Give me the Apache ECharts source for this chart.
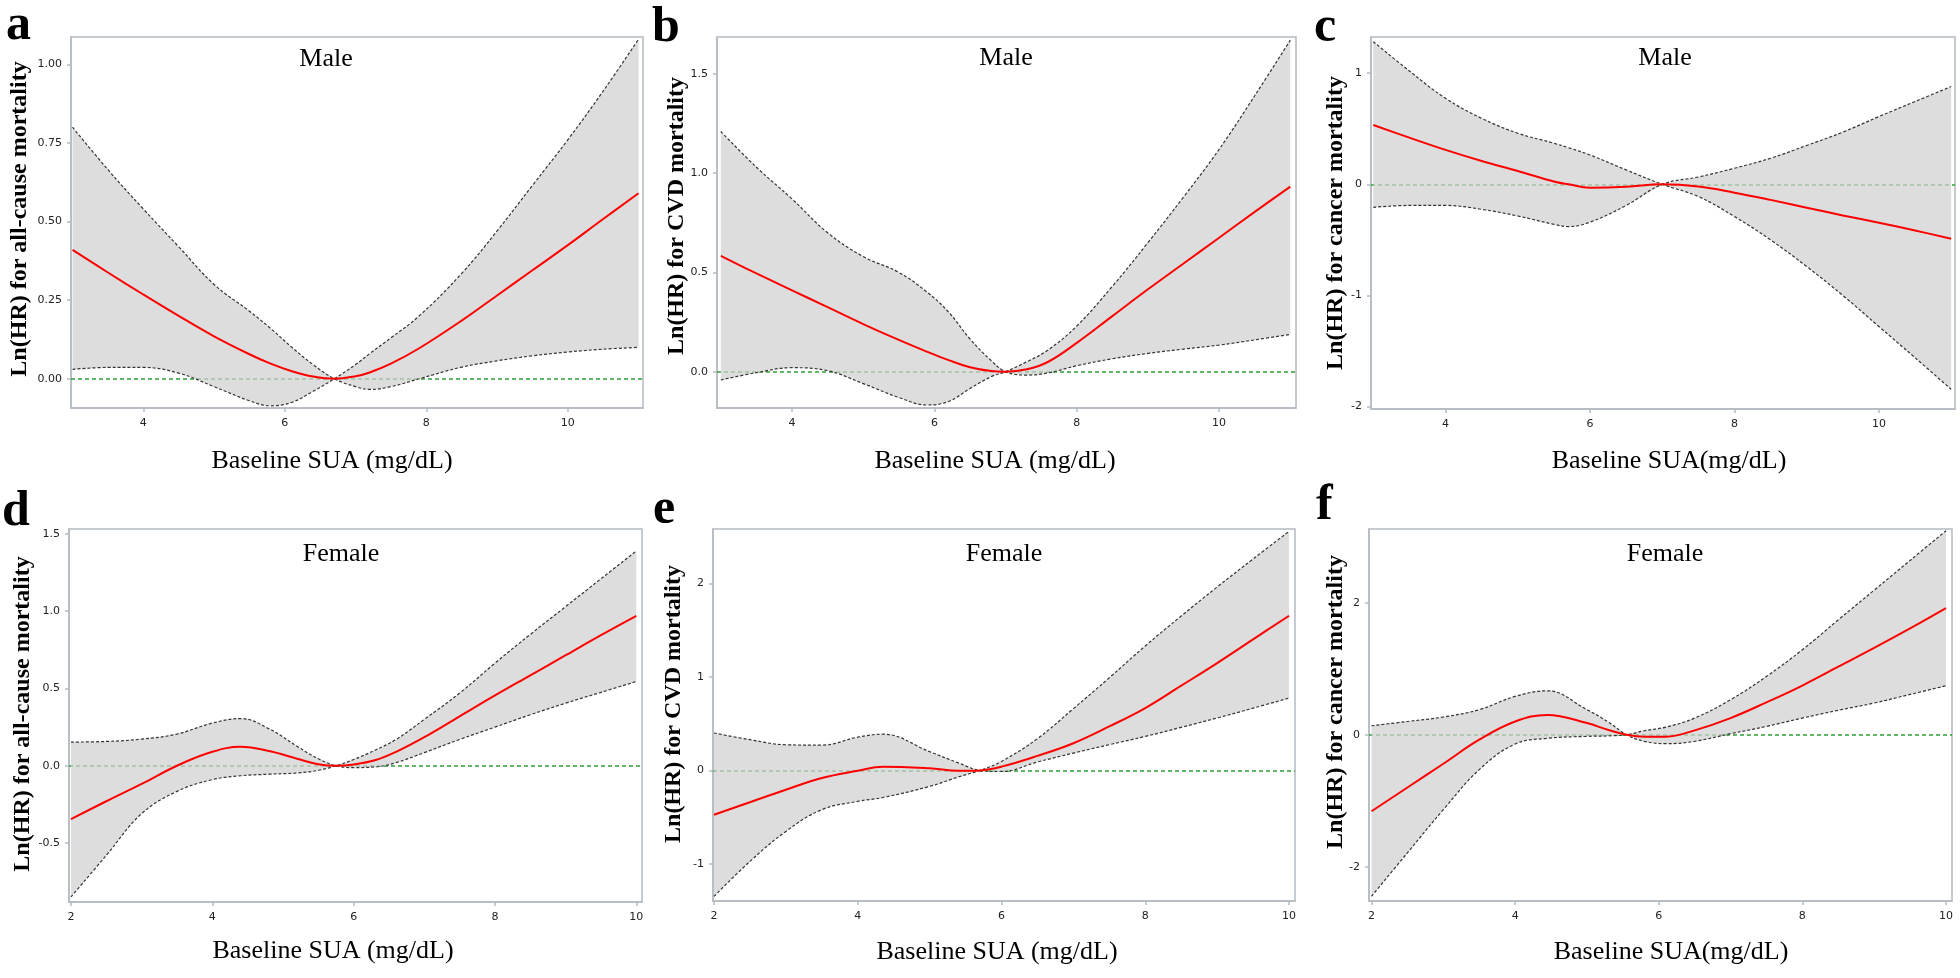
<!DOCTYPE html>
<html>
<head>
<meta charset="utf-8">
<title>Baseline SUA and mortality</title>
<script src="https://cdn.jsdelivr.net/npm/echarts@6/dist/echarts.min.js"></script>
<style>
html,body{margin:0;padding:0;background:#fff;}
#main{width:1960px;height:978px;}
</style>
</head>
<body>
<div id="main"></div>
<script>
// a: male, all-cause
var xA   = [3, 3.5, 4, 4.5, 5, 5.5, 5.8, 6.1, 6.4, 6.7, 7, 7.2, 7.5, 7.9, 8.5, 9, 9.5, 10, 10.5, 11];
var estA = [0.41, 0.338, 0.268, 0.2, 0.135, 0.078, 0.048, 0.024, 0.007, 0, 0.008, 0.02, 0.048, 0.097, 0.185, 0.265, 0.345, 0.425, 0.508, 0.59];
var upA  = [0.8, 0.665, 0.54, 0.42, 0.3, 0.215, 0.16, 0.1, 0.045, 0, 0.045, 0.08, 0.13, 0.2, 0.335, 0.47, 0.615, 0.76, 0.915, 1.08];
var loA  = [0.03, 0.036, 0.036, 0.018, -0.025, -0.07, -0.086, -0.075, -0.04, 0, -0.025, -0.034, -0.025, 0, 0.037, 0.057, 0.073, 0.085, 0.094, 0.1];
// b: male, CVD
var xB   = [3, 3.5, 4, 4.5, 5, 5.5, 5.9, 6.2, 6.5, 6.8, 7, 7.3, 7.6, 8, 8.5, 9, 9.5, 10, 10.5, 11];
var estB = [0.583, 0.495, 0.41, 0.325, 0.24, 0.16, 0.1, 0.058, 0.022, 0.003, 0, 0.012, 0.05, 0.145, 0.28, 0.415, 0.545, 0.675, 0.805, 0.932];
var upB  = [1.21, 1.03, 0.87, 0.7, 0.58, 0.5, 0.4, 0.3, 0.165, 0.055, 0, 0.05, 0.11, 0.23, 0.43, 0.65, 0.88, 1.12, 1.39, 1.67];
var loB  = [-0.042, -0.005, 0.02, 0.005, -0.06, -0.13, -0.168, -0.15, -0.085, -0.025, 0, -0.017, -0.006, 0.03, 0.065, 0.092, 0.114, 0.134, 0.16, 0.188];
// c: male, cancer
var xC   = [3, 3.5, 4, 4.5, 5, 5.5, 5.7, 6, 6.5, 7, 7.5, 8, 8.5, 9, 9.5, 10, 10.5, 11];
var estC = [0.534, 0.42, 0.31, 0.21, 0.12, 0.025, 0, -0.03, -0.022, 0, -0.02, -0.075, -0.14, -0.21, -0.28, -0.345, -0.415, -0.49];
var upC  = [1.284, 1.02, 0.774, 0.594, 0.46, 0.37, 0.33, 0.264, 0.13, 0, 0.066, 0.145, 0.235, 0.35, 0.47, 0.61, 0.745, 0.88];
var loC  = [-0.207, -0.19, -0.19, -0.225, -0.285, -0.36, -0.38, -0.34, -0.19, 0, -0.11, -0.29, -0.5, -0.74, -1.0, -1.28, -1.56, -1.845];
// d: female, all-cause
var xD   = [2, 2.5, 3, 3.5, 4, 4.4, 4.8, 5.2, 5.5, 5.75, 6, 6.3, 6.6, 7, 7.5, 8, 8.5, 9, 9.5, 10];
var estD = [-0.345, -0.23, -0.118, 0, 0.09, 0.122, 0.095, 0.045, 0.01, 0, 0.008, 0.035, 0.09, 0.185, 0.32, 0.455, 0.585, 0.715, 0.845, 0.97];
var upD  = [0.153, 0.157, 0.172, 0.205, 0.276, 0.305, 0.24, 0.125, 0.045, 0, 0.04, 0.1, 0.17, 0.3, 0.47, 0.664, 0.85, 1.03, 1.21, 1.39];
var loD  = [-0.849, -0.58, -0.31, -0.166, -0.09, -0.065, -0.055, -0.047, -0.03, 0, -0.012, -0.008, 0.02, 0.085, 0.17, 0.25, 0.33, 0.405, 0.475, 0.545];
// e: female, CVD
var xE   = [2, 2.5, 3, 3.5, 4, 4.35, 5, 5.4, 5.7, 6, 6.5, 7, 7.5, 8, 8.5, 9, 9.5, 10];
var estE = [-0.474, -0.34, -0.207, -0.082, -0.005, 0.04, 0.022, -0.005, 0, 0.04, 0.155, 0.29, 0.47, 0.666, 0.905, 1.147, 1.4, 1.653];
var upE  = [0.4, 0.328, 0.274, 0.27, 0.355, 0.387, 0.2, 0.08, 0, 0.096, 0.34, 0.66, 0.99, 1.33, 1.65, 1.96, 2.26, 2.554];
var loE  = [-1.347, -0.973, -0.652, -0.42, -0.331, -0.29, -0.171, -0.07, 0, -0.012, 0.09, 0.185, 0.275, 0.363, 0.46, 0.56, 0.665, 0.773];
// f: female, cancer
var xF   = [2, 2.5, 3, 3.5, 4, 4.45, 5, 5.3, 5.55, 5.8, 6.1, 6.5, 7, 7.5, 8, 8.5, 9, 9.5, 10];
var estF = [-1.16, -0.8, -0.44, -0.076, 0.2, 0.3, 0.177, 0.07, 0, -0.03, -0.03, 0.066, 0.252, 0.49, 0.745, 1.03, 1.315, 1.61, 1.918];
var upF  = [0.136, 0.2, 0.268, 0.379, 0.58, 0.665, 0.379, 0.19, 0, 0.06, 0.115, 0.252, 0.53, 0.883, 1.287, 1.74, 2.19, 2.64, 3.09];
var loF  = [-2.448, -1.79, -1.136, -0.53, -0.141, -0.055, -0.025, -0.018, 0, -0.1, -0.136, -0.1, 0.015, 0.126, 0.252, 0.37, 0.48, 0.61, 0.742];

// reference points (HR = 1)
var refs = [6.7, 7, 7, 5.75, 5.7, 5.55];

var xTicksTop = [4, 6, 8, 10];
var xTicksBottom = [2, 4, 6, 8, 10];
var yTicksA = [0, 0.25, 0.5, 0.75, 1];
var yTicksB = [0, 0.5, 1, 1.5];
var yTicksC = [-2, -1, 0, 1];
var yTicksD = [-0.5, 0, 0.5, 1, 1.5];
var yTicksE = [-1, 0, 1, 2];
var yTicksF = [-2, 0, 2];

var letters = ['a', 'b', 'c', 'd', 'e', 'f'];
var sexNames = ['Male', 'Male', 'Male', 'Female', 'Female', 'Female'];
var yTitles = ['Ln(HR) for all-cause mortality', 'Ln(HR) for CVD mortality', 'Ln(HR) for cancer mortality',
               'Ln(HR) for all-cause mortality', 'Ln(HR) for CVD mortality', 'Ln(HR) for cancer mortality'];
var xTitles = ['Baseline SUA (mg/dL)', 'Baseline SUA (mg/dL)', 'Baseline SUA(mg/dL)',
               'Baseline SUA (mg/dL)', 'Baseline SUA (mg/dL)', 'Baseline SUA(mg/dL)'];

// layout of each panel (pixels / axis ranges)
var panels = [
    {x: xA, est: estA, up: upA, lo: loA, yTicks: yTicksA, xTicks: xTicksTop, dec: 2,
     grid: {left: 71, top: 37, width: 572, height: 371}, xr: [2.978, 11.063], yr: [-0.093, 1.087],
     letter: [6, 26], sex: [326, 59], xt: [332, 461], yt: [20, 219]},
    {x: xB, est: estB, up: upB, lo: loB, yTicks: yTicksB, xTicks: xTicksTop, dec: 1,
     grid: {left: 717, top: 37, width: 579, height: 371}, xr: [2.946, 11.08], yr: [-0.183, 1.686],
     letter: [652, 28], sex: [1006, 58], xt: [995, 461], yt: [677, 216]},
    {x: xC, est: estC, up: upC, lo: loC, yTicks: yTicksC, xTicks: xTicksTop, dec: 0,
     grid: {left: 1371, top: 37, width: 584, height: 372}, xr: [2.968, 11.053], yr: [-2.022, 1.326],
     letter: [1314, 28], sex: [1665, 58], xt: [1669, 461], yt: [1336, 223]},
    {x: xD, est: estD, up: upD, lo: loD, yTicks: yTicksD, xTicks: xTicksBottom, dec: 1,
     grid: {left: 69, top: 529, width: 573, height: 373}, xr: [1.972, 10.08], yr: [-0.882, 1.532],
     letter: [2, 512], sex: [341, 554], xt: [333, 951], yt: [23, 714]},
    {x: xE, est: estE, up: upE, lo: loE, yTicks: yTicksE, xTicks: xTicksBottom, dec: 0,
     grid: {left: 713, top: 529, width: 582, height: 372}, xr: [1.986, 10.083], yr: [-1.396, 2.58],
     letter: [653, 510], sex: [1004, 554], xt: [997, 952], yt: [674, 704]},
    {x: xF, est: estF, up: upF, lo: loF, yTicks: yTicksF, xTicks: xTicksBottom, dec: 0,
     grid: {left: 1369, top: 529, width: 583, height: 372}, xr: [1.965, 10.084], yr: [-2.52, 3.117],
     letter: [1316, 506], sex: [1665, 554], xt: [1671, 952], yt: [1336, 702]}
];

var boxColor = '#b3bac1';
var bandColor = '#d0d0d0';
var serif = '"Liberation Serif", "Times New Roman", serif';

var grids = [], xAxes = [], yAxes = [], series = [], texts = [];

function pts(xs, ys){
    var r = [];
    for (var i = 0; i < xs.length; i++) r.push([xs[i], ys[i]]);
    return r;
}

// grey CI band, split at the reference point so the tip stays sharp.
// values go in dimension 0 so that the stack is done on y
function addBand(p, k, side){
    var lo = [], diff = [];
    var ref = refs[k];
    for (var i = 0; i < p.x.length; i++) {
        var ok = side == 'L' ? p.x[i] <= ref : p.x[i] >= ref;
        if (!ok) continue;
        lo.push([p.lo[i], p.x[i]]);
        diff.push([p.up[i] - p.lo[i], p.x[i]]);
    }
    var stack = 'band' + k + side;
    series.push({
        type: 'line', xAxisIndex: k, yAxisIndex: k, data: lo, encode: {x: 1, y: 0},
        stack: stack, stackStrategy: 'all',
        symbol: 'none', smooth: 0.4, lineStyle: {opacity: 0}, z: 2, silent: true
    });
    series.push({
        type: 'line', xAxisIndex: k, yAxisIndex: k, data: diff, encode: {x: 1, y: 0},
        stack: stack, stackStrategy: 'all',
        symbol: 'none', smooth: 0.4, lineStyle: {opacity: 0},
        areaStyle: {color: bandColor, opacity: 0.72}, z: 2, silent: true
    });
}

panels.forEach(function(p, k){
    grids.push({
        left: p.grid.left, top: p.grid.top, width: p.grid.width, height: p.grid.height,
        show: true, borderColor: boxColor, borderWidth: 1.5, backgroundColor: 'transparent',
        containLabel: false, outerBoundsMode: 'none'
    });
    xAxes.push({
        type: 'value', gridIndex: k, min: p.xr[0], max: p.xr[1],
        splitLine: {show: false},
        axisLine: {show: true, onZero: false, lineStyle: {color: boxColor, width: 1.5}},
        axisTick: {show: true, length: 4, customValues: p.xTicks, lineStyle: {color: boxColor, width: 1.5}},
        axisLabel: {customValues: p.xTicks, margin: 10, color: '#222', fontSize: 11, fontFamily: 'DejaVu Sans'}
    });
    yAxes.push({
        type: 'value', gridIndex: k, min: p.yr[0], max: p.yr[1],
        splitLine: {show: false},
        axisLine: {show: true, onZero: false, lineStyle: {color: boxColor, width: 1.5}},
        axisTick: {show: true, length: 4, customValues: p.yTicks, lineStyle: {color: boxColor, width: 1.5}},
        axisLabel: {customValues: p.yTicks, margin: 9, color: '#222', fontSize: 11, fontFamily: 'DejaVu Sans',
            formatter: (function(d){ return function(v){ return Number(v).toFixed(d); }; })(p.dec)}
    });

    // green reference line at 0, under the band
    series.push({
        type: 'line', xAxisIndex: k, yAxisIndex: k, data: [], z: 1, silent: true,
        markLine: {
            silent: true, symbol: ['none', 'none'], z: 1, animation: false,
            label: {show: false},
            lineStyle: {color: '#2f9e33', type: [4, 3], width: 1.5},
            data: [{yAxis: 0}]
        }
    });

    addBand(p, k, 'L');
    addBand(p, k, 'R');

    // CI bounds cross at the reference value
    var c1 = [], c2 = [];
    for (var i = 0; i < p.x.length; i++) {
        if (p.x[i] <= refs[k]) { c1.push([p.x[i], p.up[i]]); c2.push([p.x[i], p.lo[i]]); }
        else { c1.push([p.x[i], p.lo[i]]); c2.push([p.x[i], p.up[i]]); }
    }
    [c1, c2].forEach(function(c){
        series.push({
            type: 'line', xAxisIndex: k, yAxisIndex: k, data: c, symbol: 'none', smooth: 0.4,
            lineStyle: {color: '#333', width: 1.2, type: [3, 2]}, z: 3, silent: true
        });
    });

    series.push({
        type: 'line', xAxisIndex: k, yAxisIndex: k, data: pts(p.x, p.est), symbol: 'none', smooth: 0.4,
        lineStyle: {color: '#ff0000', width: 2}, z: 4, silent: true
    });

    texts.push({type: 'text', x: p.letter[0], y: p.letter[1], z: 100,
        style: {text: letters[k], font: 'bold 50px ' + serif, fill: '#000', textAlign: 'left', textVerticalAlign: 'middle'}});
    texts.push({type: 'text', x: p.sex[0], y: p.sex[1], z: 100,
        style: {text: sexNames[k], font: '26px ' + serif, fill: '#000', textAlign: 'center', textVerticalAlign: 'middle'}});
    texts.push({type: 'text', x: p.xt[0], y: p.xt[1], z: 100,
        style: {text: xTitles[k], font: '26px ' + serif, fill: '#000', textAlign: 'center', textVerticalAlign: 'middle'}});
    texts.push({type: 'text', x: p.yt[0], y: p.yt[1], rotation: Math.PI / 2, z: 100,
        style: {text: yTitles[k], font: 'bold 24px ' + serif, fill: '#000', textAlign: 'center', textVerticalAlign: 'middle'}});
});

var chart = echarts.init(document.getElementById('main'), null, {renderer: 'canvas'});
chart.setOption({
    animation: false,
    backgroundColor: '#fff',
    grid: grids,
    xAxis: xAxes,
    yAxis: yAxes,
    series: series,
    graphic: {elements: texts}
});
</script>
</body>
</html>
